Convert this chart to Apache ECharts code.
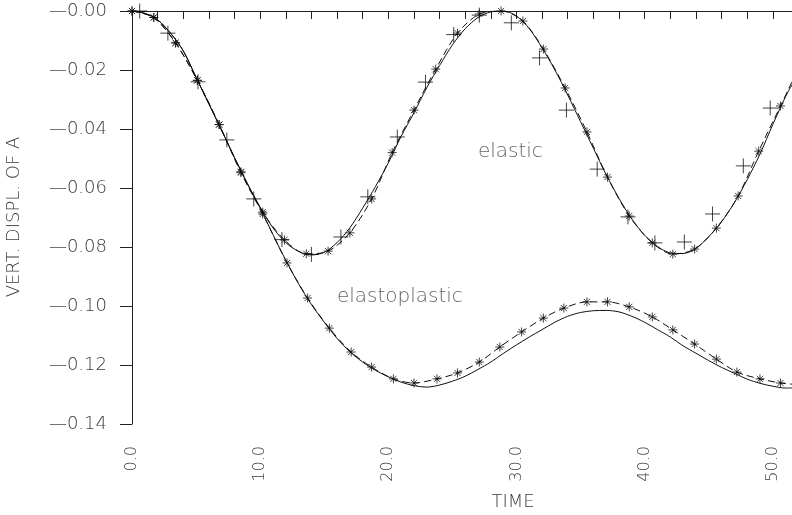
<!DOCTYPE html>
<html>
<head>
<meta charset="utf-8">
<script src="https://cdn.jsdelivr.net/npm/echarts@6/dist/echarts.min.js"></script>
<style>html,body{margin:0;padding:0;background:#fff;}#c{width:792px;height:515px;}</style>
</head>
<body>
<div id="c"></div>
<script>
// ---- data ----
const xTicks = [0, 10, 20, 30, 40, 50];
const yTicks = [0, -0.02, -0.04, -0.06, -0.08, -0.10, -0.12, -0.14];

// elastic, solid line
const elSolidT = [0,1,2,3,4,5,6,7,8,9,10,11,12,13,14,15,16,17,18,19,20,21,22,23,24,25,26,27,28,29,30,31,32,33,34,35,36,37,38,39,40,41,42,43,44,45,46,47,48,49,50,51,51.5];
const elSolidV = [0,-0.0008,-0.003,-0.0075,-0.0135,-0.0225,-0.0315,-0.0405,-0.0497,-0.0585,-0.0665,-0.0735,-0.0785,-0.0815,-0.0827,-0.0818,-0.0785,-0.0735,-0.0668,-0.0595,-0.0515,-0.0425,-0.0345,-0.026,-0.0185,-0.0115,-0.006,-0.0022,-0.0003,0,-0.0017,-0.006,-0.0125,-0.02,-0.0285,-0.0375,-0.0465,-0.0555,-0.0635,-0.0705,-0.076,-0.0798,-0.082,-0.0822,-0.0805,-0.0765,-0.0715,-0.065,-0.0572,-0.0485,-0.0385,-0.029,-0.025];

// elastic, dashed line with asterisks
const elStarT = [0,1.7,3.4,5.1,6.8,8.5,10.2,11.9,13.6,15.3,17.0,18.7,20.3,22.0,23.7,25.4,27.1,28.8,30.5,32.1,33.8,35.5,37.1,38.8,40.6,42.2,43.9,45.6,47.3,48.9,50.6,51.5];
const elStarV = [0,-0.0022,-0.0108,-0.0235,-0.0385,-0.0545,-0.0682,-0.0776,-0.0823,-0.0814,-0.0752,-0.0637,-0.048,-0.0336,-0.0197,-0.0075,-0.001,0,-0.0034,-0.0129,-0.0261,-0.041,-0.0563,-0.0695,-0.0786,-0.0824,-0.0807,-0.0736,-0.0627,-0.0475,-0.0322,-0.024];

// elastic, plus markers
const elPlusT = [0.6,2.8,5.15,7.4,9.5,11.7,14.0,16.3,18.4,20.7,22.9,25.1,27.1,29.6,31.8,33.9,36.3,38.7,40.8,43.1,45.3,47.7,49.8];
const elPlusV = [0,-0.0075,-0.024,-0.0437,-0.0637,-0.0775,-0.0825,-0.0766,-0.063,-0.0427,-0.0241,-0.008,-0.0014,-0.004,-0.0159,-0.0336,-0.0536,-0.0698,-0.0786,-0.0783,-0.0688,-0.0525,-0.0329];

// elastoplastic, solid line
const epSolidT = [0,1,2,3,4,5,6,7,8,9,10,11,12,13,14,15,16,17,18,19,20,21,22,23,24,25,26,27,28,29,30,31,32,33,34,35,36,37,38,39,40,41,42,43,44,45,46,47,48,49,50,51,51.5];
const epSolidV = [0,-0.0008,-0.003,-0.0075,-0.0135,-0.0225,-0.0315,-0.0405,-0.0497,-0.0585,-0.0668,-0.0758,-0.0845,-0.0925,-0.0995,-0.1055,-0.111,-0.1155,-0.119,-0.1218,-0.124,-0.1258,-0.127,-0.1275,-0.1268,-0.1255,-0.1238,-0.1215,-0.119,-0.116,-0.1132,-0.1105,-0.108,-0.1055,-0.1035,-0.1022,-0.1016,-0.1015,-0.102,-0.1035,-0.1055,-0.108,-0.1105,-0.1135,-0.116,-0.1185,-0.1208,-0.1228,-0.1248,-0.1262,-0.1272,-0.1278,-0.1278];

// elastoplastic, dashed line with asterisks
const epStarT = [0,1.7,3.4,5.1,6.8,8.5,10.2,12.1,13.7,15.4,17.1,18.7,20.4,22.0,23.8,25.4,27.1,28.7,30.4,32.1,33.7,35.5,37.1,38.8,40.6,42.2,43.9,45.6,47.2,49.0,50.6,51.5];
const epStarV = [0,-0.0022,-0.0108,-0.0235,-0.0385,-0.0548,-0.0688,-0.0854,-0.0973,-0.1075,-0.1156,-0.1207,-0.1247,-0.1261,-0.1247,-0.1227,-0.119,-0.1139,-0.1088,-0.1041,-0.1007,-0.0986,-0.0986,-0.1003,-0.1037,-0.1081,-0.1129,-0.118,-0.1224,-0.1247,-0.1261,-0.1265];

const labels = [
  {text: 'elastic', t: 26.99, v: -0.0478},
  {text: 'elastoplastic', t: 15.99, v: -0.0969}
];
// ---------------------------------------

const zip = (a, b) => a.map((x, i) => [x, b[i]]);
const FONT = 'DejaVu Sans';
const TXT = '#3a3a3a';
const STAR = 'path://M5,0L5,10M0,5L10,5M1.6,1.6L8.4,8.4M8.4,1.6L1.6,8.4';
const PLUS = 'path://M0,5L10,5M5,0L5,10';

const chart = echarts.init(document.getElementById('c'), null, {renderer: 'canvas'});
chart.setOption({
  animation: false,
  backgroundColor: '#fff',
  grid: {left: 132, right: 0, top: 11, bottom: 91, containLabel: false},
  xAxis: {
    type: 'value', min: 0, max: 51.5, interval: 2,
    axisLine: {lineStyle: {color: '#222', width: 1}},
    axisTick: {length: 8, lineStyle: {color: '#222'}},
    splitLine: {show: false},
    axisLabel: {
      rotate: 90, margin: 22, interval: 0, showMaxLabel: false,
      fontFamily: FONT, fontSize: 16, fontWeight: 200, color: TXT,
      formatter: v => (xTicks.indexOf(Math.round(v)) >= 0 && Math.abs(v - Math.round(v)) < 1e-6) ? v.toFixed(1) : ''
    }
  },
  yAxis: {
    type: 'value', min: -0.14, max: 0, interval: 0.02,
    axisLine: {lineStyle: {color: '#222', width: 1}},
    axisTick: {length: 12, lineStyle: {color: '#222'}},
    splitLine: {show: false},
    axisLabel: {
      margin: 25, fontFamily: FONT, fontSize: 18, fontWeight: 200, color: TXT,
      formatter: v => '\u2014' + Math.abs(v).toFixed(2)
    }
  },
  graphic: [
    {type: 'text', x: 14, y: 217, rotation: Math.PI / 2,
     style: {text: 'VERT. DISPL. OF A', font: '200 18px "DejaVu Sans"', fill: TXT, textAlign: 'center', textVerticalAlign: 'middle'}},
    {type: 'text', x: 513, y: 502,
     style: {text: 'TIME', font: '200 18px "DejaVu Sans"', fill: TXT, textAlign: 'center', textVerticalAlign: 'middle'}}
  ],
  series: [
    {type: 'line', data: zip(elSolidT, elSolidV), smooth: 0.3, showSymbol: false,
     lineStyle: {color: '#111', width: 1}},
    {type: 'line', data: zip(elStarT, elStarV), smooth: 0.3, showSymbol: false,
     lineStyle: {color: '#111', width: 1, type: [7, 4]}},
    {type: 'scatter', data: zip(elStarT, elStarV).slice(0, -1), symbol: STAR, symbolSize: 9,
     itemStyle: {color: 'none', borderColor: '#111', borderWidth: 1}},
    {type: 'scatter', data: zip(elPlusT, elPlusV), symbol: PLUS, symbolSize: 15,
     itemStyle: {color: 'none', borderColor: '#111', borderWidth: 1}},
    {type: 'line', data: zip(epSolidT, epSolidV), smooth: 0.3, showSymbol: false,
     lineStyle: {color: '#111', width: 1}},
    {type: 'line', data: zip(epStarT, epStarV), smooth: 0.3, showSymbol: false,
     lineStyle: {color: '#111', width: 1, type: [7, 4]}},
    {type: 'scatter', data: zip(epStarT, epStarV).slice(0, -1), symbol: STAR, symbolSize: 9,
     itemStyle: {color: 'none', borderColor: '#111', borderWidth: 1}},
    {type: 'scatter', data: labels.map(l => ({value: [l.t, l.v], name: l.text})), symbolSize: 0,
     label: {show: true, position: 'inside', align: 'left', formatter: p => p.name,
       fontFamily: FONT, fontSize: 20, fontWeight: 200, color: TXT}}
  ]
});
</script>
</body>
</html>
